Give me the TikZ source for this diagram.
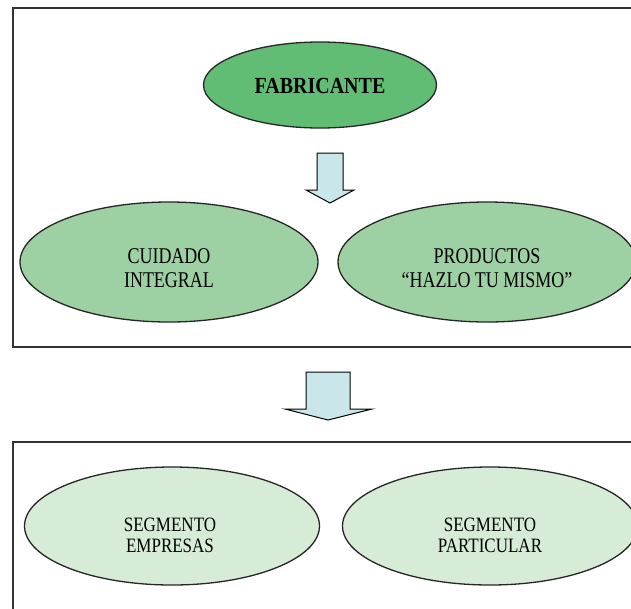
\documentclass[tikz,border=0pt]{standalone}
\usepackage{fontspec}
\setmainfont{Liberation Serif}
\usetikzlibrary{shapes.geometric}
\definecolor{verdeFuerte}{HTML}{62BD74}
\definecolor{verdeMedio}{HTML}{9DD1A3}
\definecolor{verdeClaro}{HTML}{D6ECD6}
\definecolor{flechaAzul}{HTML}{C9E7EA}
\newcommand{\alto}[2][1.25]{\scalebox{1}[#1]{#2}}
\begin{document}
\begin{tikzpicture}[x=1pt,y=-1pt,
	marco/.style={draw=black!80,line width=1.2pt,fill=white},
	elipse/.style={ellipse,draw=black!85,line width=1.3pt,inner sep=0pt},
	texto/.style={align=center,inner sep=0pt},
	flecha/.style={draw=black,line width=1pt,fill=flechaAzul}]
		\useasboundingbox (0,0) rectangle (631,608);
		\clip (0,0) rectangle (631,608);
		% recuadro superior
		\draw[marco] (13,8) rectangle (660,347);
		\node[elipse,fill=verdeFuerte,minimum width=233pt,minimum height=86pt] (fab) at (320,85) {};
		\node[texto,font=\fontsize{20}{24}\bfseries] (fabT) at (320,86) {\alto[1.15]{FABRICANTE}};
		\draw[flecha] (317,153)--(343,153)--(343,190)--(354,190)--(330,203)--(306,190)--(317,190)--cycle;
		\node[elipse,fill=verdeMedio,minimum width=298pt,minimum height=120pt] (cuid) at (169,262) {};
		\node[texto,font=\fontsize{18}{24}\selectfont] (cuidT) at (169,268) {\alto{CUIDADO}\\\alto{INTEGRAL}};
		\node[elipse,fill=verdeMedio,minimum width=298pt,minimum height=120pt] (prod) at (487,262) {};
		\node[texto,font=\fontsize{18}{24}\selectfont] (prodT) at (487,268) {\alto{PRODUCTOS}\\\alto{``HAZLO TU MISMO''}};
		% flecha entre recuadros
		\draw[flecha] (306,372)--(350,372)--(350,409)--(372,409)--(328,420)--(285,409)--(306,409)--cycle;
		% recuadro inferior
		\draw[marco] (13,442) rectangle (660,640);
		\node[elipse,fill=verdeClaro,minimum width=295pt,minimum height=118pt] (emp) at (172,526) {};
		\node[texto,font=\fontsize{17}{21}\selectfont] (empT) at (170,535) {\alto[1.2]{SEGMENTO}\\\alto[1.2]{EMPRESAS}};
		\node[elipse,fill=verdeClaro,minimum width=295pt,minimum height=118pt] (part) at (490,526) {};
		\node[texto,font=\fontsize{17}{21}\selectfont] (partT) at (490,535) {\alto[1.2]{SEGMENTO}\\\alto[1.2]{PARTICULAR}};
\end{tikzpicture}
\end{document}
